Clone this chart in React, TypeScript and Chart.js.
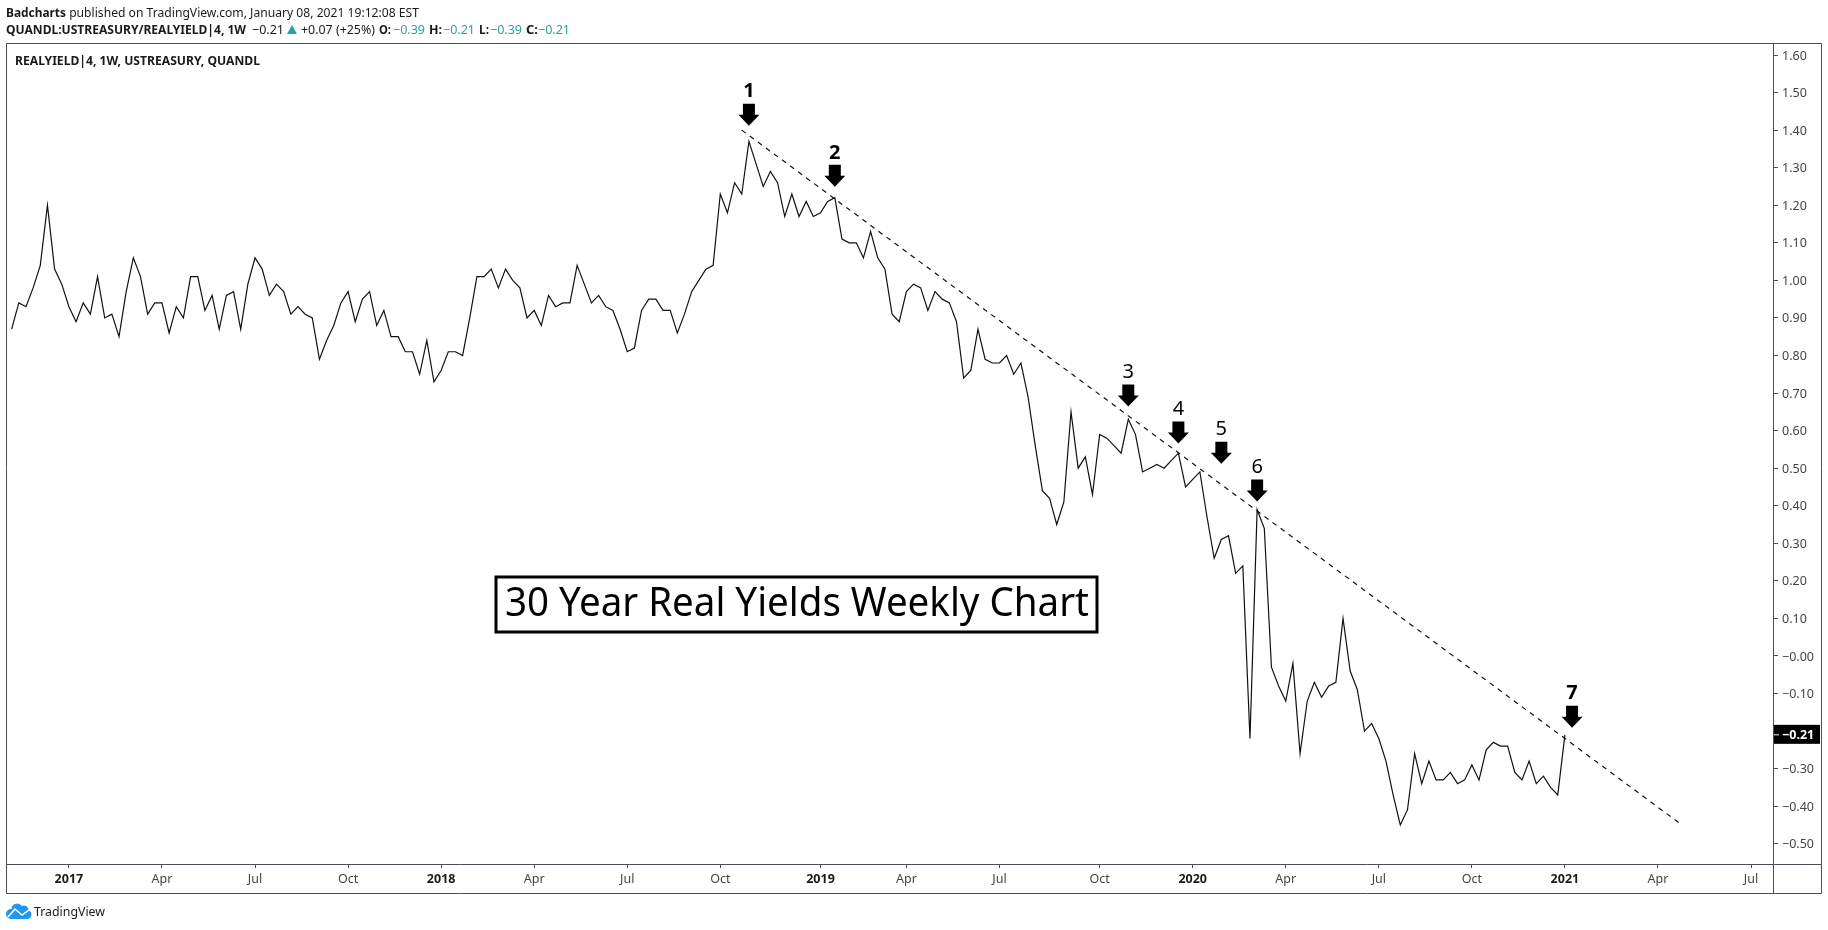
import { useEffect, useRef } from "react";
import { Chart, registerables } from "chart.js";

Chart.register(...registerables);

// Weekly closes, one value per week; week 0 is the first week of 2017.
const firstWeek = -8;
const yieldsLate2016To2017a = [0.87,0.94,0.93,0.98,1.04,1.20,1.03,0.99,0.93,0.89,0.94,0.91,1.01,0.90,0.91,0.85,0.97,1.06,1.01,0.91,0.94,0.94,0.86,0.93,0.90,1.01,1.01,0.92,0.96,0.87,0.96,0.97,0.87,0.99,1.06,1.03,0.96,0.99,0.97,0.91,0.93];
const yields2017bTo2018a = [0.91,0.90,0.79,0.84,0.88,0.94,0.97,0.89,0.95,0.97,0.88,0.92,0.85,0.85,0.81,0.81,0.75,0.84,0.73,0.76,0.81,0.81,0.80,0.90,1.01,1.01,1.03,0.98,1.03,1.00,0.98,0.90,0.92,0.88,0.96,0.93,0.94,0.94,1.04,0.99,0.94];
const yields2018b = [0.96,0.93,0.92,0.87,0.81,0.82,0.92,0.95,0.95,0.92,0.92,0.86,0.91,0.97,1.00,1.03,1.04];
const yields2018cTo2019a = [1.23,1.18,1.26,1.23,1.37,1.31,1.25,1.29,1.26,1.17,1.23,1.17,1.21,1.17,1.18,1.21,1.22,1.11,1.10,1.10,1.06,1.13,1.06,1.03,0.91,0.89,0.97,0.99,0.98,0.92,0.97,0.95,0.94,0.89];
const yields2019b = [0.74,0.76,0.87,0.79,0.78,0.78,0.80,0.75,0.78,0.69,0.56,0.44,0.42,0.35,0.41,0.65,0.50,0.53,0.43,0.59,0.58,0.56,0.54,0.63,0.59,0.49,0.50,0.51,0.50,0.52,0.54,0.45,0.47,0.49];
const yields2020a = [0.37,0.26,0.31,0.32,0.22,0.24,-0.22,0.39,0.34];
const yields2020b = [-0.03,-0.08,-0.12,-0.02,-0.26,-0.12,-0.07,-0.11,-0.08,-0.07,0.10,-0.04,-0.09,-0.20,-0.18,-0.22,-0.28,-0.37,-0.45,-0.41,-0.26,-0.34,-0.28,-0.33,-0.33,-0.31,-0.34,-0.33,-0.29,-0.33,-0.25,-0.23,-0.24,-0.24,-0.31,-0.33,-0.28,-0.34,-0.32,-0.35,-0.37,-0.21];

const trendWeeks = [94, 225];
const trendValues = [1.40, -0.445];

const arrowLabels = ["1", "2", "3", "4", "5", "6", "7"];
const arrowWeeks = [95, 107, 148, 155, 161, 166, 210];
const arrowTipValues = [1.412, 1.249, 0.664, 0.566, 0.512, 0.411, -0.191];

const xTickWeeks = [0, 13, 26, 39, 52, 65, 78, 91, 105, 117, 130, 144, 157, 170, 183, 196, 209, 222, 235];
const xTickLabels = ["2017", "Apr", "Jul", "Oct", "2018", "Apr", "Jul", "Oct", "2019", "Apr", "Jul", "Oct", "2020", "Apr", "Jul", "Oct", "2021", "Apr", "Jul"];
const yTickValues = [1.6, 1.5, 1.4, 1.3, 1.2, 1.1, 1.0, 0.9, 0.8, 0.7, 0.6, 0.5, 0.4, 0.3, 0.2, 0.1, 0, -0.1, -0.2, -0.3, -0.4, -0.5];
const yTickLabels = ["1.60", "1.50", "1.40", "1.30", "1.20", "1.10", "1.00", "0.90", "0.80", "0.70", "0.60", "0.50", "0.40", "0.30", "0.20", "0.10", "\u22120.00", "\u22120.10", "\u22120.20", "\u22120.30", "\u22120.40", "\u22120.50"];

const lastValue = -0.21;
const lastLabel = "\u22120.21";
const titleText = "30 Year Real Yields Weekly Chart";
const paneText = "REALYIELD|4, 1W, USTREASURY, QUANDL";
const footerText = "TradingView";
const headerLine1 = [
  { t: "Badcharts", bold: true, teal: false },
  { t: " published on TradingView.com, January 08, 2021 19:12:08 EST", bold: false, teal: false },
];
const headerLine2 = [
  { t: "QUANDL:USTREASURY/REALYIELD|4, 1W", bold: true, teal: false, x: 6, w: 240 },
  { t: "\u22120.21", bold: false, teal: false, x: 252, w: 32 },
  { t: "+0.07 (+25%)", bold: false, teal: false, x: 301, w: 74 },
  { t: "O:", bold: true, teal: false, x: 379, w: 12 },
  { t: "\u22120.39", bold: false, teal: true, x: 393, w: 32 },
  { t: "H:", bold: true, teal: false, x: 429, w: 13 },
  { t: "\u22120.21", bold: false, teal: true, x: 443, w: 32 },
  { t: "L:", bold: true, teal: false, x: 479, w: 10 },
  { t: "\u22120.39", bold: false, teal: true, x: 490, w: 32 },
  { t: "C:", bold: true, teal: false, x: 526, w: 12 },
  { t: "\u22120.21", bold: false, teal: true, x: 538, w: 32 },
];

const allYields = [
  ...yieldsLate2016To2017a,
  ...yields2017bTo2018a,
  ...yields2018b,
  ...yields2018cTo2019a,
  ...yields2019b,
  ...yields2020a,
  ...yields2020b,
];

const UI_FONT = '"Noto Sans", sans-serif';
const FRAME = "#4a4e57";
const TEXT = "#1a1a1a";
const TEAL = "#26a69a";

const decorations = {
  id: "decorations",
  afterDatasetsDraw(chart: any) {
    const { ctx, scales } = chart;
    const { x: xs, y: ys } = scales;
    const area = chart.chartArea;
    ctx.save();

    // frame
    ctx.strokeStyle = FRAME;
    ctx.lineWidth = 1;
    ctx.beginPath();
    ctx.rect(6.5, 43.5, 1815, 850);
    ctx.moveTo(area.right + 0.5, 43.5);
    ctx.lineTo(area.right + 0.5, 893.5);
    ctx.moveTo(6.5, area.bottom + 0.5);
    ctx.lineTo(1821.5, area.bottom + 0.5);
    ctx.stroke();

    // header
    ctx.textBaseline = "middle";
    ctx.textAlign = "left";
    ctx.fillStyle = TEXT;
    ctx.font = `bold 13px ${UI_FONT}`;
    ctx.fillText(headerLine1[0].t, 6, 13, 60);
    ctx.font = `13px ${UI_FONT}`;
    ctx.fillText(headerLine1[1].t, 66, 13, 353);
    for (const p of headerLine2) {
      ctx.font = `${p.bold ? "bold " : ""}13px ${UI_FONT}`;
      ctx.fillStyle = p.teal ? TEAL : TEXT;
      ctx.fillText(p.t, p.x, 30, p.w);
    }
    ctx.fillStyle = TEAL;
    ctx.beginPath();
    ctx.moveTo(292, 25);
    ctx.lineTo(297, 34);
    ctx.lineTo(287, 34);
    ctx.closePath();
    ctx.fill();

    // pane title
    ctx.fillStyle = TEXT;
    ctx.font = `bold 13px ${UI_FONT}`;
    ctx.fillText(paneText, 15, 61, 245);

    // arrows
    arrowLabels.forEach((label, i) => {
      const px = xs.getPixelForValue(arrowWeeks[i]);
      const tip = ys.getPixelForValue(arrowTipValues[i]);
      ctx.fillStyle = "#000";
      ctx.beginPath();
      ctx.moveTo(px, tip);
      ctx.lineTo(px + 10.5, tip - 11);
      ctx.lineTo(px + 6, tip - 11);
      ctx.lineTo(px + 6, tip - 22);
      ctx.lineTo(px - 6, tip - 22);
      ctx.lineTo(px - 6, tip - 11);
      ctx.lineTo(px - 10.5, tip - 11);
      ctx.closePath();
      ctx.fill();
      const heavy = label === "1" || label === "2" || label === "7";
      ctx.font = `${heavy ? "bold " : ""}20px ${UI_FONT}`;
      ctx.textAlign = "center";
      ctx.fillText(label, px, tip - 34);
    });

    // title box
    ctx.fillStyle = "#fff";
    ctx.fillRect(496, 577, 601, 55);
    ctx.strokeStyle = "#000";
    ctx.lineWidth = 3;
    ctx.strokeRect(496, 577, 601, 55);
    ctx.fillStyle = "#000";
    ctx.font = `40px ${UI_FONT}`;
    ctx.textAlign = "left";
    ctx.fillText(titleText, 505, 605, 584);

    // last value tag
    const ly = ys.getPixelForValue(lastValue);
    ctx.fillStyle = "#000";
    ctx.fillRect(area.right + 1, ly - 10, 46, 19);
    ctx.strokeStyle = "#fff";
    ctx.lineWidth = 1;
    ctx.beginPath();
    ctx.moveTo(area.right + 1, ly);
    ctx.lineTo(area.right + 6, ly);
    ctx.stroke();
    ctx.fillStyle = "#fff";
    ctx.font = `bold 12.5px ${UI_FONT}`;
    ctx.fillText(lastLabel, area.right + 9, ly + 1, 36);

    // footer logo and wordmark
    ctx.fillStyle = "#2196f3";
    ctx.beginPath();
    ctx.arc(11, 914, 5, 0, Math.PI * 2);
    ctx.arc(17, 909, 5.5, 0, Math.PI * 2);
    ctx.arc(24, 910, 4.5, 0, Math.PI * 2);
    ctx.arc(27, 914.5, 4.5, 0, Math.PI * 2);
    ctx.fill();
    ctx.fillRect(10, 913, 18, 6);
    ctx.strokeStyle = "#fff";
    ctx.lineWidth = 1.5;
    ctx.beginPath();
    ctx.moveTo(8, 917);
    ctx.lineTo(15, 909);
    ctx.lineTo(22, 915);
    ctx.lineTo(29, 910);
    ctx.stroke();
    ctx.fillStyle = TEXT;
    ctx.font = `13px ${UI_FONT}`;
    ctx.fillText(footerText, 34, 912, 71);
    ctx.restore();
  },
};

export default function App() {
  const ref = useRef<HTMLCanvasElement | null>(null);
  useEffect(() => {
    if (!ref.current) return;
    const chart = new Chart(ref.current, {
      type: "line",
      data: {
        datasets: [
          {
            label: "REALYIELD",
            data: allYields.map((y, i) => ({ x: firstWeek + i, y })),
            borderColor: "#111",
            borderWidth: 1.2,
            pointRadius: 0,
            tension: 0,
          },
          {
            label: "Trend",
            data: trendWeeks.map((x, i) => ({ x, y: trendValues[i] })),
            borderColor: "#111",
            borderWidth: 1.2,
            borderDash: [5, 5],
            pointRadius: 0,
            tension: 0,
          },
        ],
      },
      options: {
        animation: false,
        responsive: false,
        devicePixelRatio: 1,
        layout: { padding: { left: 7, right: 7, top: 43, bottom: 37 } },
        plugins: { legend: { display: false }, tooltip: { enabled: false } },
        scales: {
          x: {
            type: "linear",
            min: -8.65,
            max: 238.07,
            afterBuildTicks(scale: any) {
              scale.ticks = xTickWeeks.map((value) => ({ value }));
            },
            afterFit(scale: any) {
              scale.height = 29;
            },
            border: { display: false },
            grid: { drawOnChartArea: false, drawTicks: true, tickLength: 4, color: FRAME },
            ticks: {
              autoSkip: false,
              maxRotation: 0,
              padding: 4,
              color: (ctx: any) => (/^\d{4}$/.test(xTickLabels[ctx.index]) ? TEXT : "#444"),
              font: (ctx: any) => ({
                family: UI_FONT,
                size: 12.5,
                weight: /^\d{4}$/.test(xTickLabels[ctx.index]) ? "bold" : "normal",
              }),
              callback: (_v: any, i: number) => xTickLabels[i],
            },
          },
          y: {
            type: "linear",
            position: "right",
            min: -0.5539,
            max: 1.632,
            afterBuildTicks(scale: any) {
              scale.ticks = yTickValues.map((value) => ({ value }));
            },
            afterFit(scale: any) {
              scale.width = 48;
            },
            border: { display: false },
            grid: { drawOnChartArea: false, drawTicks: true, tickLength: 5, color: FRAME },
            ticks: {
              autoSkip: false,
              padding: 4,
              labelOffset: 1,
              color: "#444",
              font: { family: UI_FONT, size: 12.5 },
              callback: (_v: any, i: number) => yTickLabels[i],
            },
          },
        },
      },
      plugins: [decorations],
    } as any);
    return () => chart.destroy();
  }, []);
  return (
    <canvas
      ref={ref}
      width={1828}
      height={930}
      style={{ position: "absolute", left: 0, top: 0, width: 1828, height: 930, display: "block", background: "#fff" }}
    />
  );
}
